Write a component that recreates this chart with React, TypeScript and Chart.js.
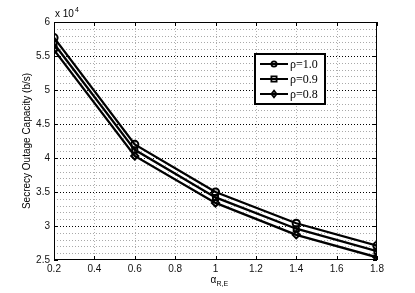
import React, { useEffect, useRef } from "react";
import { Chart, registerables } from "chart.js";

Chart.register(...registerables);

const xValues = [0.2, 0.6, 1.0, 1.4, 1.8];
const rho10 = [57700, 42000, 35000, 30400, 27100];
const rho09 = [56800, 41200, 34200, 29600, 26300];
const rho08 = [55900, 40300, 33400, 28700, 25400];
const seriesLabels = ["ρ=1.0", "ρ=0.9", "ρ=0.8"];
const markerStyles = ["circle", "rect", "rectRot"];
const yLabels = ["2.5", "3", "3.5", "4", "4.5", "5", "5.5", "6"];

const SANS = "'Liberation Sans', Arial, sans-serif";
const SERIF = "'Liberation Serif', 'Times New Roman', serif";

function marker(ctx: CanvasRenderingContext2D, style: string, x: number, y: number, r: number) {
  ctx.beginPath();
  if (style === "circle") {
    ctx.arc(x, y, r, 0, Math.PI * 2);
  } else if (style === "rect") {
    ctx.rect(x - r, y - r, 2 * r, 2 * r);
  } else {
    ctx.moveTo(x, y - r * 1.3);
    ctx.lineTo(x + r, y);
    ctx.lineTo(x, y + r * 1.3);
    ctx.lineTo(x - r, y);
    ctx.closePath();
  }
  ctx.stroke();
}

const decorPlugin = {
  id: "decor",
  beforeDatasetsDraw(chart: any) {
    const { ctx, chartArea: a } = chart;
    const xs = chart.scales.x;
    const ys = chart.scales.y;
    ctx.save();
    ctx.lineWidth = 1;
    // minor horizontal grid
    ctx.setLineDash([1, 2]);
    ys.ticks.forEach((t: any) => {
      const n = Math.round(t.value);
      const py = Math.round(ys.getPixelForValue(t.value)) + 0.5;
      if (n === 25000 || n === 60000) return;
      ctx.strokeStyle = n % 5000 === 0 ? "#000" : "rgba(160,160,160,0.9)";
      ctx.beginPath();
      ctx.moveTo(a.left, py);
      ctx.lineTo(a.right, py);
      ctx.stroke();
    });
    xs.ticks.forEach((t: any) => {
      const px = Math.round(xs.getPixelForValue(t.value)) + 0.5;
      if (px < a.left + 2 || px > a.right - 2) return;
      ctx.strokeStyle = "rgba(170,170,170,0.9)";
      ctx.beginPath();
      ctx.moveTo(px, a.top);
      ctx.lineTo(px, a.bottom);
      ctx.stroke();
    });
    ctx.setLineDash([]);
    ctx.strokeStyle = "#000";
    ctx.strokeRect(a.left + 0.5, a.top + 0.5, a.right - a.left - 1, a.bottom - a.top - 1);
    ctx.beginPath();
    xs.ticks.forEach((t: any) => {
      const px = Math.round(xs.getPixelForValue(t.value)) + 0.5;
      ctx.moveTo(px, a.bottom);
      ctx.lineTo(px, a.bottom - 4);
      ctx.moveTo(px, a.top);
      ctx.lineTo(px, a.top + 4);
    });
    ys.ticks.forEach((t: any) => {
      if (Math.round(t.value) % 5000 !== 0) return;
      const py = Math.round(ys.getPixelForValue(t.value)) + 0.5;
      ctx.moveTo(a.left, py);
      ctx.lineTo(a.left + 4, py);
      ctx.moveTo(a.right, py);
      ctx.lineTo(a.right - 4, py);
    });
    ctx.stroke();
    ctx.restore();
  },
  afterDraw(chart: any) {
    const { ctx, chartArea: a } = chart;
    ctx.save();
    ctx.fillStyle = "#000";
    ctx.font = `10px ${SANS}`;
    ctx.textBaseline = "alphabetic";
    ctx.textAlign = "left";
    ctx.fillText("x 10", a.left + 1, a.top - 5);
    ctx.font = `7px ${SANS}`;
    ctx.fillText("4", a.left + 21, a.top - 10);
    ctx.font = `10px ${SANS}`;
    ctx.translate(27, (a.top + a.bottom) / 2);
    ctx.rotate(-Math.PI / 2);
    ctx.textAlign = "center";
    ctx.textBaseline = "middle";
    ctx.fillText("Secrecy Outage Capacity (b/s)", 0, 0);
    ctx.setTransform(1, 0, 0, 1, 0, 0);
    ctx.textBaseline = "alphabetic";
    const cx = (a.left + a.right) / 2;
    ctx.font = `10px ${SANS}`;
    ctx.textAlign = "left";
    ctx.fillText("α", cx - 5, 283);
    ctx.font = `7px ${SANS}`;
    ctx.fillText("R,E", cx + 1, 286);
    const lx = 255, ly = 54, lw = 70, lh = 50;
    ctx.fillStyle = "#fff";
    ctx.fillRect(lx, ly, lw, lh);
    ctx.strokeStyle = "#000";
    ctx.lineWidth = 2;
    ctx.strokeRect(lx, ly, lw, lh);
    const rows = [64, 79, 94];
    seriesLabels.forEach((lab, i) => {
      const y = rows[i];
      ctx.lineWidth = 2;
      ctx.strokeStyle = "#000";
      ctx.beginPath();
      ctx.moveTo(lx + 5, y);
      ctx.lineTo(lx + 33, y);
      ctx.stroke();
      ctx.lineWidth = 1.8;
      marker(ctx, markerStyles[i], lx + 19, y, 2.6);
      ctx.fillStyle = "#000";
      ctx.font = `12px ${SERIF}`;
      ctx.textAlign = "left";
      ctx.textBaseline = "middle";
      ctx.fillText(lab, lx + 35, y + 1);
    });
    ctx.restore();
  },
};

export default function App() {
  const ref = useRef<HTMLCanvasElement>(null);
  useEffect(() => {
    document.body.style.margin = "0";
    const mk = (data: number[], i: number) => ({
      label: seriesLabels[i],
      data: xValues.map((x, j) => ({ x, y: data[j] })),
      borderColor: "#000",
      backgroundColor: "rgba(0,0,0,0)",
      borderWidth: 2.3,
      pointStyle: markerStyles[i],
      pointRadius: 3.6,
      pointBorderWidth: 2,
      pointBorderColor: "#000",
      pointBackgroundColor: "rgba(255,255,255,0)",
      tension: 0,
    });
    const chart = new Chart(ref.current!, {
      type: "line",
      data: { datasets: [mk(rho10, 0), mk(rho09, 1), mk(rho08, 2)] },
      plugins: [decorPlugin],
      options: {
        animation: false,
        responsive: false,
        devicePixelRatio: 1,
        layout: { padding: { top: 22, right: 38, left: 0, bottom: 0 } },
        plugins: { legend: { display: false }, tooltip: { enabled: false } },
        scales: {
          x: {
            type: "linear",
            min: 0.2,
            max: 1.8,
            afterFit: (s: any) => { s.height = 33; },
            ticks: {
              stepSize: 0.2,
              color: "#111",
              font: { family: SANS, size: 10 },
              padding: 3,
              maxRotation: 0,
              callback: (v: any) => {
                const r = Math.round(Number(v) * 10) / 10;
                return Number.isInteger(r) ? String(r) : r.toFixed(1);
              },
            },
            grid: { display: false, drawTicks: false },
            border: { display: false },
          },
          y: {
            type: "linear",
            min: 25000,
            max: 60000,
            afterFit: (s: any) => { s.width = 54; },
            afterBuildTicks: (s: any) => {
              const t = [];
              for (let v = 25000; v <= 60000; v += 1000) t.push({ value: v });
              s.ticks = t;
            },
            ticks: {
              color: "#111",
              font: { family: SANS, size: 10 },
              padding: 4,
              autoSkip: false,
              callback: (v: any) => {
                const n = Math.round(Number(v));
                if (n % 5000 !== 0) return "";
                return yLabels[(n - 25000) / 5000];
              },
            },
            grid: { display: false, drawTicks: false },
            border: { display: false },
          },
        },
      } as any,
    });
    return () => chart.destroy();
  }, []);
  return (
    <div style={{ position: "absolute", left: 0, top: 0, width: 415, height: 293, background: "#fff" }}>
      <canvas ref={ref} width={415} height={293} />
    </div>
  );
}
